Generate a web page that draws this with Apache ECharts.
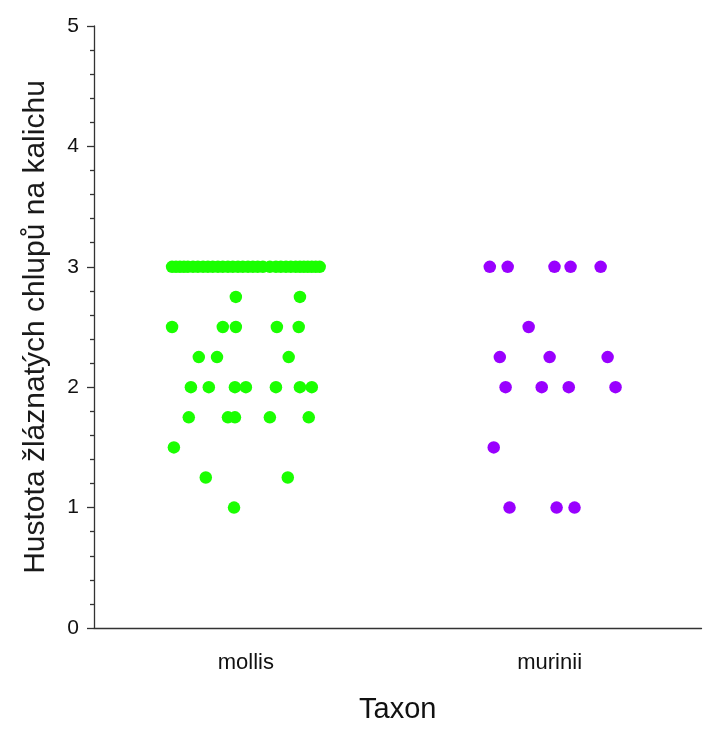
<!DOCTYPE html>
<html><head><meta charset="utf-8">
<script src="https://cdn.jsdelivr.net/npm/echarts@6/dist/echarts.min.js"></script>
<style>html,body{margin:0;padding:0;background:#fff}#c{width:705px;height:729px}</style>
</head><body><div id="c"></div>
<script>
const categories = ['mollis', 'murinii'];
const yTicks = [0, 1, 2, 3, 4, 5];
const mollisValues = [
  3,3,3,3,3,3,3,3,3,3,3,3,3,3,3,3,3,3,3,3,3,3,3,3,3,3,3,3,3,3,3,3,
  2.75,2.75,
  2.5,2.5,2.5,2.5,2.5,
  2.25,2.25,2.25,
  2,2,2,2,2,2,2,
  1.75,1.75,1.75,1.75,1.75,
  1.5,
  1.25,1.25,
  1
];
const mollisJitter = [
  -0.243,-0.230,-0.217,-0.204,-0.191,-0.174,-0.158,-0.141,-0.125,-0.109,-0.092,-0.076,-0.059,-0.043,-0.026,-0.010,
  0.007,0.023,0.039,0.056,0.079,0.099,0.115,0.132,0.148,0.164,0.178,0.191,0.204,0.217,0.230,0.243,
  -0.033,0.178,
  -0.243,-0.076,-0.033,0.102,0.174,
  -0.155,-0.095,0.141,
  -0.181,-0.122,-0.036,0.0,0.099,0.178,0.217,
  -0.188,-0.059,-0.036,0.079,0.207,
  -0.237,
  -0.132,0.138,
  -0.039
];
const muriniiValues = [
  3,3,3,3,3,
  2.5,
  2.25,2.25,2.25,
  2,2,2,2,
  1.5,
  1,1,1
];
const muriniiJitter = [
  -0.197,-0.138,0.016,0.069,0.168,
  -0.069,
  -0.164,0.0,0.191,
  -0.145,-0.026,0.063,0.217,
  -0.184,
  -0.132,0.023,0.082
];

function pts(catIdx, vals, jit) {
  return vals.map((v, i) => [catIdx + 1 + jit[i], v]);
}

const chart = echarts.init(document.getElementById('c'), null, {renderer: 'canvas'});
const font = 'Liberation Sans, Arial, sans-serif';
chart.setOption({
  animation: false,
  backgroundColor: '#fff',
  grid: {left: 94, right: 3.5, top: 26, bottom: 95, containLabel: false},
  xAxis: [{
    type: 'category',
    data: categories,
    boundaryGap: true,
    name: 'Taxon',
    nameLocation: 'middle',
    nameGap: 67,
    nameTextStyle: {fontFamily: font, fontSize: 29, color: '#111'},
    axisLine: {lineStyle: {color: '#333', width: 1.3}},
    axisTick: {alignWithLabel: true, length: 7, lineStyle: {color: '#333', width: 1.3}},
    axisLabel: {fontFamily: font, fontSize: 22, color: '#111', margin: 24},
    splitLine: {show: false}
  }, {
    type: 'value',
    min: 0.5, max: 2.5,
    show: false
  }],
  yAxis: {
    type: 'value',
    min: yTicks[0], max: yTicks[yTicks.length - 1], interval: 1,
    name: 'Hustota žláznatých chlupů na kalichu',
    nameLocation: 'middle',
    nameGap: 43,
    nameTextStyle: {fontFamily: font, fontSize: 30, color: '#1a1a1a'},
    axisLine: {show: true, lineStyle: {color: '#333', width: 1.3}},
    axisTick: {show: true, length: 7, lineStyle: {color: '#333', width: 1.3}},
    minorTick: {show: true, splitNumber: 5, length: 4, lineStyle: {color: '#333', width: 1.3}},
    axisLabel: {fontFamily: font, fontSize: 21, color: '#111', margin: 15},
    splitLine: {show: false}
  },
  series: [{
    name: categories[0],
    type: 'scatter',
    xAxisIndex: 1,
    symbolSize: 12.5,
    itemStyle: {color: '#1AFF00', opacity: 1},
    data: pts(0, mollisValues, mollisJitter)
  }, {
    name: categories[1],
    type: 'scatter',
    xAxisIndex: 1,
    symbolSize: 12.5,
    itemStyle: {color: '#9900FF', opacity: 1},
    data: pts(1, muriniiValues, muriniiJitter)
  }]
});
</script>
</body></html>
